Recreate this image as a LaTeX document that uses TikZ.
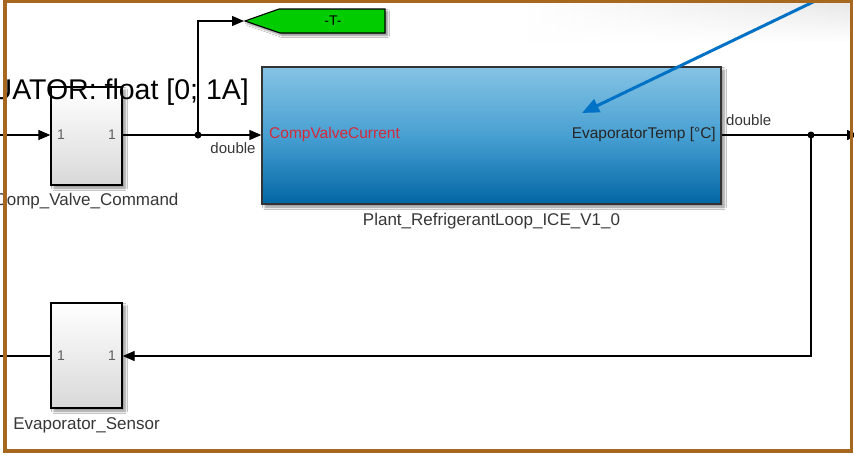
\documentclass[tikz,border=0pt]{standalone}
\usepackage{fontspec}
\setmainfont{Liberation Sans}
\usetikzlibrary{arrows.meta,shadows.blur,fadings}

\definecolor{frameBrown}{RGB}{166,104,30}
\definecolor{plantTop}{RGB}{133,195,228}
\definecolor{plantMid}{RGB}{72,160,210}
\definecolor{plantBot}{RGB}{2,102,164}
\definecolor{gotoGreen}{RGB}{0,204,0}
\definecolor{portRed}{RGB}{214,40,56}
\definecolor{noteBlue}{RGB}{0,114,198}
\definecolor{labelGray}{RGB}{55,55,55}
\definecolor{portGray}{RGB}{95,95,95}

\tikzfading[name=fadedown, top color=transparent!0, bottom color=transparent!100]

\begin{document}
\begin{tikzpicture}[x=1pt,y=-1pt,
  sig/.style={line width=1.3pt, black},
  sigarrow/.style={sig, -{Triangle[length=12pt,width=10pt]}},
  softshadow/.style={blur shadow={shadow xshift=3pt, shadow yshift=-3pt,
      shadow blur steps=6, shadow blur radius=2.5pt, shadow opacity=45}},
  subsys/.style={draw=black, line width=1.3pt, top color=white,
      bottom color=black!15, minimum width=71pt, inner sep=0pt, softshadow},
  plantbox/.style={draw=black!80, line width=1.3pt, top color=plantTop,
      bottom color=plantBot, middle color=plantMid, inner sep=0pt, softshadow},
  blockname/.style={text=labelGray, font=\fontsize{17}{20}\selectfont, inner sep=0pt},
  portnum/.style={text=portGray, font=\fontsize{14}{16}\selectfont, inner sep=0pt},
  portlabel/.style={font=\fontsize{15.5}{18}\selectfont, inner sep=0pt},
  sigtype/.style={text=labelGray, font=\fontsize{15}{18}\selectfont, inner sep=0pt},
  junction/.style={fill=black},
]
\useasboundingbox (0,0) rectangle (854,455);
\clip (0,0) rectangle (854,455);
\fill[white] (0,0) rectangle (854,455);

% faint grey haze in the upper right corner
\shade[left color=white, right color=black!9, path fading=fadedown]
  (520,3) rectangle (850,42);

% ---- blocks ----
\node[subsys, minimum height=98pt] (cvc) at (86.5,136) {};
\node[portnum, anchor=west] (cvcin) at (57,135) {1};
\node[portnum, anchor=east] (cvcout) at (116,135) {1};
\node[blockname, anchor=north] (cvcname) at (86.5,193) {Comp\_Valve\_Command};

\node[subsys, minimum height=105pt] (evap) at (86.5,355.5) {};
\node[portnum, anchor=west] (evapout) at (57,356) {1};
\node[portnum, anchor=east] (evapin) at (116,356) {1};
\node[blockname, anchor=north] (evapname) at (86.5,417) {Evaporator\_Sensor};

\node[plantbox, minimum width=459pt, minimum height=137pt] (plant) at (491.5,135.5) {};
\node[portlabel, text=portRed, anchor=west] (pin) at (269,134) {CompValveCurrent};
\node[portlabel, text=black!85, anchor=east] (pout) at (716,134) {EvaporatorTemp [°C]};
\node[blockname, anchor=north] (plantname) at (491.5,213) {Plant\_RefrigerantLoop\_ICE\_V1\_0};

% goto tag
\coordinate (gototip) at (245,21);
\path[fill=gotoGreen, draw=black, line width=1.1pt,
      blur shadow={shadow xshift=2.5pt, shadow yshift=-2.5pt, shadow blur steps=5,
      shadow blur radius=2pt, shadow opacity=45}]
  (gototip) -- (279,9) -- (385,9) -- (385,33) -- (280,33) -- cycle;
\node[font=\fontsize{14}{16}\selectfont, inner sep=0pt] (gototxt) at (333,21) {-T-};

% ---- signal lines ----
\coordinate (inL) at (0,135);
\coordinate (j1) at (198,135);
\coordinate (j2) at (811,135);
\coordinate (outR) at (859,135);
\coordinate (fb) at (811,356);
\coordinate (outL) at (0,356);

\draw[sigarrow] (inL) -- (cvc.west |- inL);
\draw[sig] (cvc.east |- inL) -- (j1);
\draw[sigarrow] (j1) -- (plant.west |- j1);
\draw[sigarrow] (j1) |- ([xshift=-1pt]gototip);
\draw[sig] (plant.east |- j2) -- (j2);
\draw[sigarrow] (j2) -- (outR);
\draw[sigarrow] (j2) -- (fb) -- (evap.east |- fb);
\draw[sig] (evap.west |- outL) -- (outL);
\fill[junction] (j1) circle (3.5pt);
\fill[junction] (j2) circle (3.5pt);

\node[sigtype, anchor=north] (dt1) at (233,142) {double};
\node[sigtype, anchor=south west] (dt2) at (726,126) {double};

% annotation text and pointer
\node[anchor=base east, font=\fontsize{28.5}{32}\selectfont, inner sep=0pt] (note)
  at (249,99) {UATOR: float [0; 1A]};
\coordinate (bstart) at (836,-9);
\coordinate (btip) at (582,113);
\draw[noteBlue, line width=3pt, -{Triangle[length=17pt,width=14pt]}] (bstart) -- (btip);

% outer frame
\draw[frameBrown, line width=3.8pt] (5,1.5) rectangle (851.5,451);
\end{tikzpicture}
\end{document}
